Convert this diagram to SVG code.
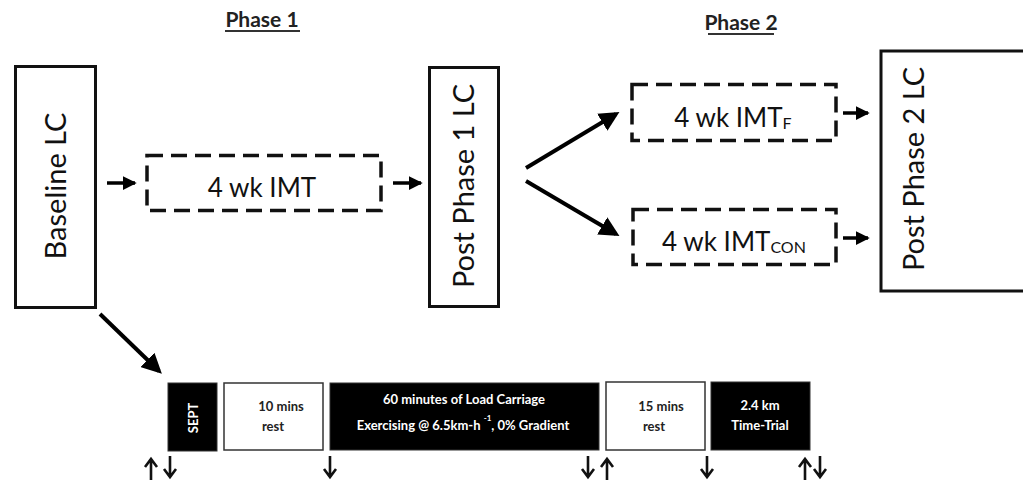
<svg xmlns="http://www.w3.org/2000/svg" width="1023" height="480" viewBox="0 0 1023 480">
  <style>
    .title { font-family: Lato, "Open Sans", sans-serif; font-weight: bold; font-size: 21px; fill: #222; }
    .rule { stroke: #333; stroke-width: 2; }
    .big { font-family: Lato, "Open Sans", sans-serif; font-size: 29px; fill: #111; }
    .mid { font-family: Lato, "Open Sans", sans-serif; font-size: 26px; fill: #111; }
    .solid { fill: #fff; stroke: #111; stroke-width: 3; }
    .dashed { fill: #fff; stroke: #111; stroke-width: 3.5; stroke-dasharray: 16 8; }
    .blk { fill: #000; stroke: #333; stroke-width: 1; }
    .wht { fill: #fff; stroke: #333; stroke-width: 1.5; }
    .sm { font-family: Lato, "Open Sans", sans-serif; font-weight: bold; font-size: 13px; text-anchor: middle; }
    .on-blk { fill: #fff; }
    .on-wht { fill: #222; }
    .link { stroke: #000; stroke-width: 4; fill: none; }
    .short { stroke: #000; stroke-width: 3.5; fill: none; }
    .tick { stroke: #111; stroke-width: 2.6; fill: none; }
  </style>
  <defs>
    <marker id="head" markerWidth="5" markerHeight="5" refX="4" refY="2.5" orient="auto" markerUnits="strokeWidth">
      <path d="M0,0 L5,2.5 L0,5 Z" fill="#000"/>
    </marker>
    <marker id="headS" markerWidth="4" markerHeight="4" refX="3.5" refY="2" orient="auto" markerUnits="strokeWidth">
      <path d="M0,0 L4,2 L0,4 Z" fill="#000"/>
    </marker>
  </defs>

  <rect width="1023" height="480" fill="#fff"/>

  <!-- phase headings -->
  <text class="title" x="262" y="27" text-anchor="middle">Phase 1</text>
  <line class="rule" x1="225" y1="31" x2="300" y2="31"/>
  <text class="title" x="741" y="30" text-anchor="middle">Phase 2</text>
  <line class="rule" x1="708" y1="34" x2="774" y2="34"/>

  <!-- upper flow nodes -->
  <g id="baseline-lc">
    <rect class="solid" x="15.5" y="66.5" width="80" height="241"/>
    <text class="big" transform="translate(66,186) rotate(-90)" text-anchor="middle">Baseline LC</text>
  </g>
  <g id="imt-phase1">
    <rect class="dashed" x="147" y="155.5" width="234" height="55"/>
    <text class="mid" font-size="29" x="262" y="197" text-anchor="middle">4 wk IMT</text>
  </g>
  <g id="post-phase1-lc">
    <rect class="solid" x="429.5" y="67.5" width="69" height="239"/>
    <text class="big" transform="translate(474,186) rotate(-90)" text-anchor="middle">Post Phase 1 LC</text>
  </g>
  <g id="imt-f">
    <rect class="dashed" x="632" y="84.5" width="204" height="56"/>
    <text class="mid" x="733" y="127" text-anchor="middle">4 wk IMT<tspan font-size="16" dy="2">F</tspan></text>
  </g>
  <g id="imt-con">
    <rect class="dashed" x="633" y="209.5" width="203" height="55"/>
    <text class="mid" x="734" y="251" text-anchor="middle">4 wk IMT<tspan font-size="16" dy="2">CON</tspan></text>
  </g>
  <g id="post-phase2-lc">
    <rect class="solid" x="881" y="51" width="150" height="240"/>
    <text class="big" transform="translate(924,169) rotate(-90)" text-anchor="middle">Post Phase 2 LC</text>
  </g>

  <!-- session timeline -->
  <g id="sept">
    <rect class="blk" x="168" y="383" width="49" height="68"/>
    <text class="sm on-blk" transform="translate(198,418) rotate(-90)">SEPT</text>
  </g>
  <g id="rest-10">
    <rect class="wht" x="224" y="383" width="99" height="67"/>
    <text class="sm on-wht" x="281" y="411">10 mins</text>
    <text class="sm on-wht" x="273" y="431">rest</text>
  </g>
  <g id="load-carriage">
    <rect class="blk" x="330" y="383" width="269" height="67"/>
    <text class="sm on-blk" x="464" y="404">60 minutes of Load Carriage</text>
    <text class="sm on-blk" x="463" y="430" font-size="13.5">Exercising @ 6.5km-h  <tspan font-size="8" dy="-9">-1</tspan><tspan dy="9">, 0% Gradient</tspan></text>
  </g>
  <g id="rest-15">
    <rect class="wht" x="606" y="382" width="99" height="68"/>
    <text class="sm on-wht" x="661" y="411">15 mins</text>
    <text class="sm on-wht" x="654" y="431">rest</text>
  </g>
  <g id="time-trial">
    <rect class="blk" x="711" y="382" width="99" height="68"/>
    <text class="sm on-blk" x="760" y="410">2.4 km</text>
    <text class="sm on-blk" x="760" y="430">Time-Trial</text>
  </g>

  <!-- connectors -->
  <g id="connectors">
    <line class="short" x1="107" y1="183" x2="135" y2="183" marker-end="url(#headS)"/>
    <line class="short" x1="393" y1="183" x2="421" y2="183" marker-end="url(#headS)"/>
    <line class="link" x1="526" y1="168" x2="616" y2="114" marker-end="url(#head)"/>
    <line class="link" x1="526" y1="181" x2="616" y2="234" marker-end="url(#head)"/>
    <line class="short" x1="843" y1="113" x2="868" y2="113" marker-end="url(#headS)"/>
    <line class="short" x1="843" y1="238" x2="868" y2="238" marker-end="url(#headS)"/>
    <line class="link" x1="100" y1="314" x2="159" y2="371" stroke-width="3" marker-end="url(#head)"/>

    <!-- sampling markers under the timeline -->
    <path class="tick" d="M151,480 V459 M145,467 L151,459 L157,467"/>
    <path class="tick" d="M170,456 V477 M164,469 L170,477 L176,469"/>
    <path class="tick" d="M330,456 V477 M324,469 L330,477 L336,469"/>
    <path class="tick" d="M588,456 V477 M582,469 L588,477 L594,469"/>
    <path class="tick" d="M607,480 V459 M601,467 L607,459 L613,467"/>
    <path class="tick" d="M707,456 V477 M701,469 L707,477 L713,469"/>
    <path class="tick" d="M805,480 V459 M799,467 L805,459 L811,467"/>
    <path class="tick" d="M820,456 V477 M814,469 L820,477 L826,469"/>
  </g>
</svg>
